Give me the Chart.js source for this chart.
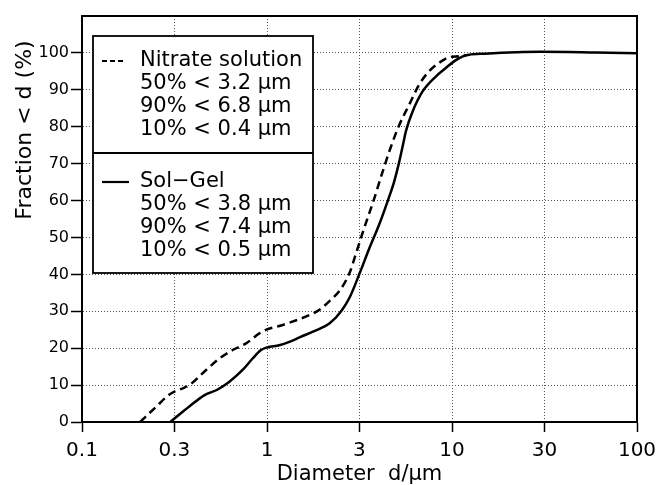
<!DOCTYPE html>
<html>
<head>
<meta charset="utf-8">
<script src="https://cdn.jsdelivr.net/npm/chart.js@4"></script>
<style>
  html, body { margin: 0; padding: 0; background: #fff; }
  canvas { display: block; }
</style>
</head>
<body>
<canvas id="chart" width="661" height="485"></canvas>
<script>
const FONT = "'DejaVu Sans', sans-serif";

// diameter in µm, cumulative fraction < d in %
const nitrateDiameter = [0.206, 0.25, 0.3, 0.36, 0.381, 0.469, 0.553, 0.652, 0.771, 0.909, 1.0, 1.165, 1.32, 1.7, 1.93, 2.2, 2.48, 2.8, 3.02, 3.35, 3.79, 4.21, 4.67, 5.18, 5.86, 6.64, 7.51, 8.51, 9.63, 10.9, 12];
const nitrateFraction = [0, 4, 7.6, 9.4, 10, 14.1, 17.2, 19.5, 21.3, 24, 25.1, 26, 26.9, 29, 30.5, 33, 35.7, 40.5, 45.5, 52.5, 60.4, 67.7, 74.5, 80.4, 85.9, 91.4, 95, 97.3, 98.8, 99.1, 99.4];

const solGelDiameter = [0.3, 0.38, 0.46, 0.541, 0.626, 0.738, 0.836, 0.928, 1.0, 1.165, 1.32, 1.51, 1.8, 2.19, 2.54, 2.8, 3.18, 3.57, 4.04, 4.53, 4.86, 5.18, 5.4, 5.65, 6.11, 6.92, 8.17, 9.25, 10.25, 11.37, 12.35, 15, 30, 60, 100];
const solGelFraction = [0, 4.2, 7.3, 8.8, 10.9, 14.1, 17.2, 19.5, 20.2, 20.8, 21.7, 23, 24.6, 26.8, 30.3, 33.8, 40.5, 47, 53.5, 60.4, 65, 70.4, 74.5, 79, 84, 89.5, 93.6, 95.9, 97.7, 99, 99.5, 99.8, 100.3, 100.1, 99.9];

// the "0.3", "3" and "30" grid lines sit on half decades in the original
const xTickValues = [0.1, 0.316, 1, 3.16, 10, 31.6, 100];
const xTickLabels = ["0.1", "0.3", "1", "3", "10", "30", "100"];
const yTickValues = [0, 10, 20, 30, 40, 50, 60, 70, 80, 90, 100];

const legendGroups = [
  { dash: [5, 3], lines: ["Nitrate solution", "50% < 3.2 µm", "90% < 6.8 µm", "10% < 0.4 µm"] },
  { dash: [], lines: ["Sol\u2212Gel", "50% < 3.8 µm", "90% < 7.4 µm", "10% < 0.5 µm"] },
];

const yTitle = "Fraction < d (%)";

function points(xs, ys) {
  return xs.map((x, i) => ({ x: x, y: ys[i] }));
}

// frame on top/right, boxed legend and the y title
const decorPlugin = {
  id: "decor",
  afterDraw(chart) {
    const { ctx, chartArea: a } = chart;
    ctx.save();
    ctx.strokeStyle = "#000";
    ctx.lineWidth = 2;
    ctx.beginPath();
    ctx.moveTo(a.left, a.top);
    ctx.lineTo(a.right, a.top);
    ctx.lineTo(a.right, a.bottom);
    ctx.stroke();

    // legend box
    const bx = a.left + 11, by = a.top + 20, bw = 220;
    const groupH = [117, 120];
    ctx.fillStyle = "#fff";
    ctx.fillRect(bx, by, bw, groupH[0] + groupH[1]);
    ctx.lineWidth = 1.8;
    ctx.strokeRect(bx, by, bw, groupH[0] + groupH[1]);
    ctx.beginPath();
    ctx.moveTo(bx, by + groupH[0]);
    ctx.lineTo(bx + bw, by + groupH[0]);
    ctx.stroke();

    ctx.fillStyle = "#000";
    ctx.font = "21px " + FONT;
    ctx.textBaseline = "middle";
    ctx.textAlign = "left";
    let gy = by;
    legendGroups.forEach((g, gi) => {
      const first = gy + (gi === 0 ? 25 : 29);
      ctx.save();
      ctx.lineWidth = 2.2;
      ctx.setLineDash(g.dash);
      ctx.beginPath();
      ctx.moveTo(bx + 9, first);
      ctx.lineTo(bx + (g.dash.length ? 31 : 36), first);
      ctx.stroke();
      ctx.restore();
      g.lines.forEach((t, i) => {
        ctx.fillText(t, bx + 47, first + i * 22.7);
      });
      gy += groupH[gi];
    });

    // rotated y title
    ctx.translate(25, 130);
    ctx.rotate(-Math.PI / 2);
    ctx.textAlign = "center";
    ctx.font = "22px " + FONT;
    ctx.fillText(yTitle, 0, 0);
    ctx.restore();
  },
};

new Chart(document.getElementById("chart"), {
  type: "line",
  data: {
    datasets: [
      {
        label: "Nitrate solution",
        data: points(nitrateDiameter, nitrateFraction),
        borderColor: "#000",
        borderWidth: 2.5,
        borderDash: [8, 5],
        pointRadius: 0,
        cubicInterpolationMode: "monotone",
        fill: false,
      },
      {
        label: "Sol-Gel",
        data: points(solGelDiameter, solGelFraction),
        borderColor: "#000",
        borderWidth: 2.5,
        pointRadius: 0,
        cubicInterpolationMode: "monotone",
        fill: false,
      },
    ],
  },
  options: {
    responsive: false,
    animation: false,
    devicePixelRatio: 1,
    layout: { padding: { top: 16, right: 24, left: 0, bottom: 0 } },
    plugins: { legend: { display: false }, tooltip: { enabled: false } },
    scales: {
      x: {
        type: "logarithmic",
        min: 0.1,
        max: 100,
        afterBuildTicks: (s) => { s.ticks = xTickValues.map((v) => ({ value: v })); },
        afterFit: (s) => {
          s.height = 63;
          s.paddingLeft = 0;
          s.paddingRight = 0;
        },
        ticks: {
          callback: (v, i) => xTickLabels[i],
          font: { family: FONT, size: 20 },
          color: "#000",
          padding: 7,
          maxRotation: 0,
          autoSkip: false,
        },
        grid: { color: "#555", lineWidth: 1, tickColor: "#000", tickLength: 10, tickWidth: 1.5, tickBorderDash: [] },
        border: { color: "#000", width: 2, dash: [1, 2] },
        title: {
          display: true,
          text: "Diameter  d/µm",
          font: { family: FONT, size: 21, lineHeight: 1.0 },
          color: "#000",
          padding: { top: 0, bottom: 0 },
        },
      },
      y: {
        min: 0,
        max: 110,
        afterBuildTicks: (s) => { s.ticks = yTickValues.map((v) => ({ value: v })); },
        afterFit: (s) => { s.width = 82; },
        ticks: {
          font: { family: FONT, size: 16 },
          color: "#000",
          padding: 2,
        },
        grid: { color: "#555", lineWidth: 1, tickColor: "#000", tickLength: 11, tickWidth: 1.5, tickBorderDash: [] },
        border: { color: "#000", width: 2, dash: [1, 2] },
      },
    },
  },
  plugins: [decorPlugin],
});
</script>
</body>
</html>
